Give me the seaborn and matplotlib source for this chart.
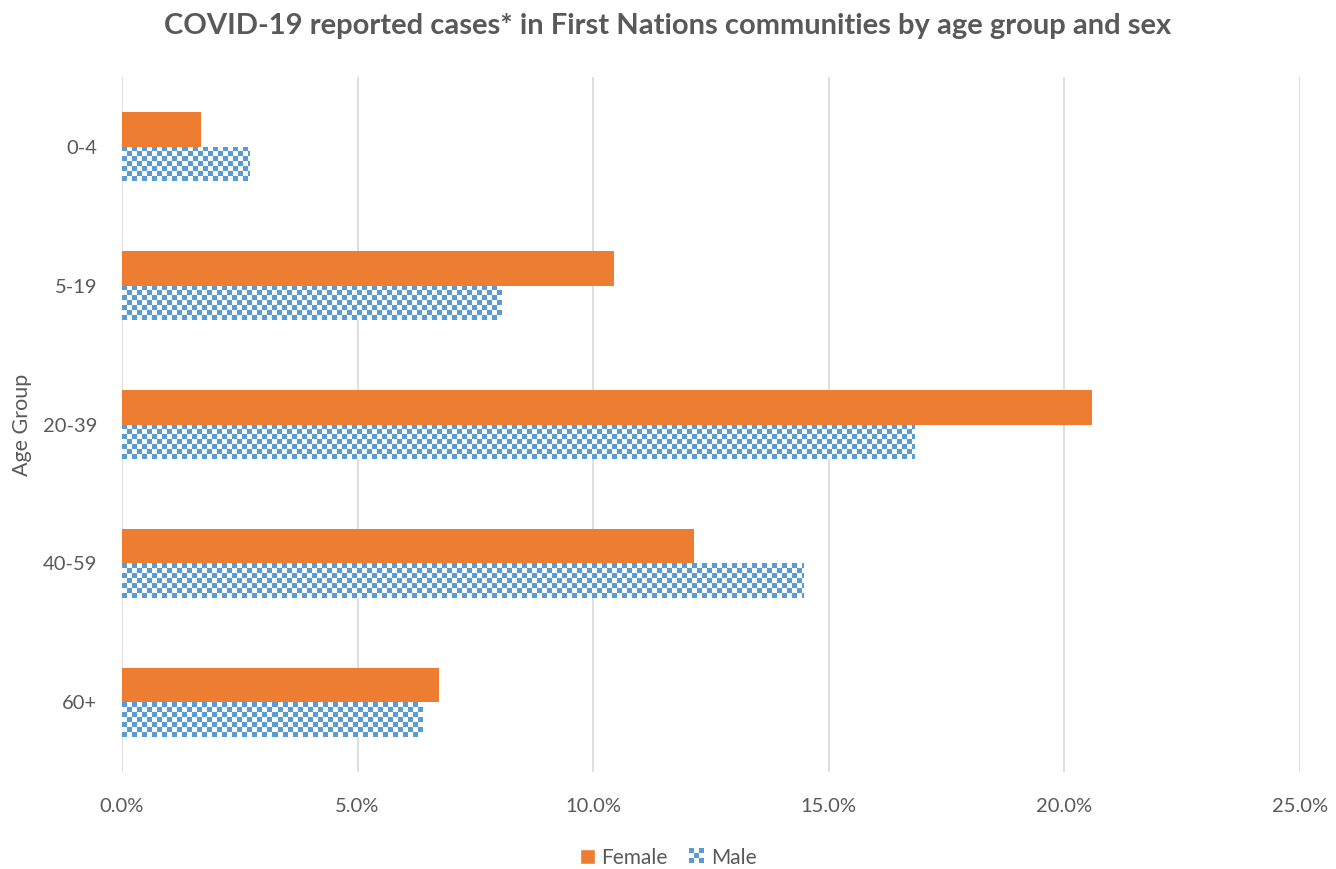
import numpy as np
import pandas as pd
import matplotlib.pyplot as plt
import seaborn as sns
from matplotlib.patches import Patch, Rectangle
from matplotlib.legend_handler import HandlerBase
from matplotlib.colors import to_rgb
from matplotlib.ticker import FuncFormatter

# datos (porcentaje de casos)
grupos = ["0-4", "5-19", "20-39", "40-59", "60+"]
mujeres = [1.68, 10.44, 20.59, 12.14, 6.73]
hombres = [2.70, 8.06, 16.83, 14.47, 6.37]
sexos = ["Female", "Male"]

naranja = "#ed7d31"
azul = "#5b9bd5"
gris = "#595959"

df = pd.DataFrame({
    "Age Group": grupos * 2,
    "pct": mujeres + hombres,
    "Sex": ["Female"] * len(grupos) + ["Male"] * len(grupos),
})


# cuadrito de tablero para la leyenda
class HandlerTablero(HandlerBase):
    def create_artists(self, legend, orig_handle, xd, yd, w, h, fontsize, trans):
        n = 3
        arts = [Rectangle((xd, yd), w, h, facecolor="white", edgecolor="none", transform=trans)]
        for i in range(n):
            for j in range(n):
                if (i + j) % 2 == 0:
                    arts.append(Rectangle((xd + i * w / n, yd + j * h / n), w / n, h / n,
                                          facecolor=azul, edgecolor="none", transform=trans))
        return arts


sns.set_style("white")
plt.rcParams["font.family"] = ["Lato", "DejaVu Sans"]

fig, ax = plt.subplots(figsize=(13.36, 8.69), dpi=100)
fig.subplots_adjust(left=0.0913, right=0.973, top=0.911, bottom=0.112)

sns.barplot(data=df, y="Age Group", x="pct", hue="Sex", order=grupos,
            hue_order=sexos, palette=[naranja, azul], width=0.5,
            orient="h", ax=ax, legend=False, saturation=1, linewidth=0)

ax.set_xlim(0, 25)
ax.set_ylim(len(grupos) - 0.5, -0.5)
ax.set_xticks(np.arange(0, 26, 5))
ax.xaxis.set_major_formatter(FuncFormatter(lambda v, p: f"{v:.1f}%"))
ax.grid(axis="x", color="#d9d9d9", linewidth=1.2)
ax.set_axisbelow(True)
for s in ax.spines.values():
    s.set_visible(False)
ax.tick_params(axis="both", length=0, labelsize=14.5, colors=gris)
ax.tick_params(axis="x", pad=19)
ax.tick_params(axis="y", pad=18)
ax.set_xlabel("")
ax.set_ylabel("Age Group", fontsize=15.5, color=gris)
ax.yaxis.set_label_coords(-0.076, 0.5)

# patron de cuadros para los hombres (un pixel de imagen por pixel de pantalla)
fig.canvas.draw()
barras = ax.patches[len(grupos):]
celda = 5
rgb = np.array(to_rgb(azul))
for b in barras:
    x0, y0 = b.get_x(), b.get_y()
    x1, y1 = x0 + b.get_width(), y0 + b.get_height()
    p0 = ax.transData.transform((x0, y0))
    p1 = ax.transData.transform((x1, y1))
    nx = max(1, int(round(abs(p1[0] - p0[0]))))
    ny = max(1, int(round(abs(p1[1] - p0[1]))))
    fil, col = np.indices((ny, nx))
    tablero = ((fil // celda + col // celda) % 2) == 0
    img = np.ones((ny, nx, 3))
    img[tablero] = rgb
    b.set_facecolor("none")
    im = ax.imshow(img, extent=(x0, x1, y1, y0), interpolation="none",
                   aspect="auto", zorder=b.get_zorder())
    im.set_clip_path(b)
ax.set_xlim(0, 25)
ax.set_ylim(len(grupos) - 0.5, -0.5)

fig.suptitle("COVID-19 reported cases* in First Nations communities by age group and sex",
             fontsize=21, fontweight="bold", color=gris, x=0.5, y=0.985)

manejadores = [Patch(facecolor=naranja, label="Female"),
               Patch(facecolor=azul, label="Male")]
ley = fig.legend(handles=manejadores, loc="lower center", ncol=2, frameon=False,
                 fontsize=15, bbox_to_anchor=(0.5, -0.02), handlelength=0.75,
                 handleheight=0.75, handletextpad=0.3, columnspacing=1.0,
                 handler_map={manejadores[1]: HandlerTablero()})
for t in ley.get_texts():
    t.set_color(gris)

plt.savefig("out.png", dpi=100)
